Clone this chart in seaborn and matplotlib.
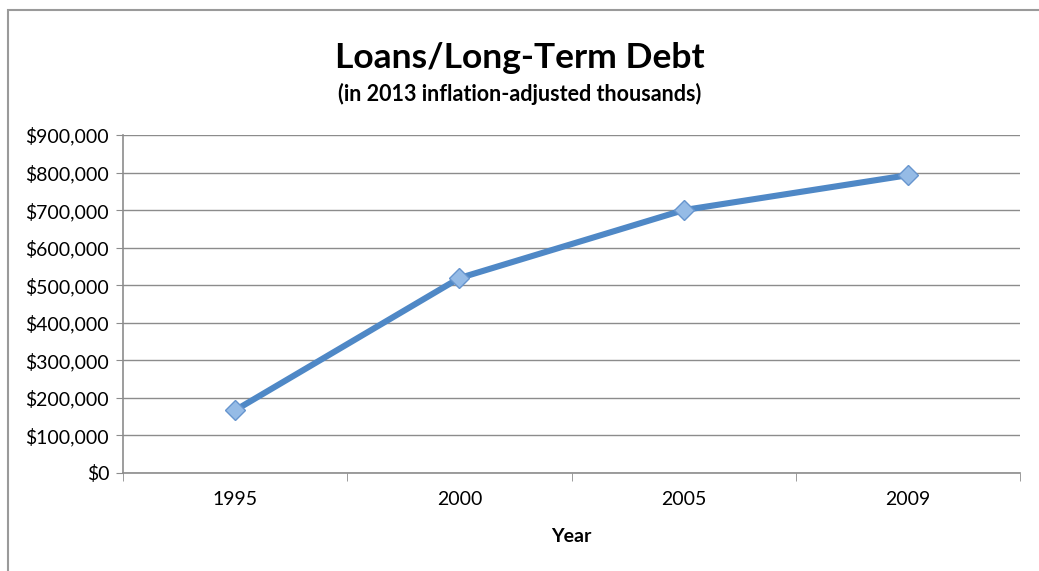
import matplotlib.pyplot as plt
import seaborn as sns
import pandas as pd
from matplotlib.patches import Rectangle
from matplotlib.ticker import FuncFormatter

# values
years = ['1995', '2000', '2005', '2009']
debt = [167000, 519000, 700000, 793000]
y_ticks = [0, 100000, 200000, 300000, 400000, 500000, 600000, 700000, 800000, 900000]

df = pd.DataFrame({'Year': years, 'Debt': debt})

sns.set_style('white')
plt.rcParams['font.family'] = ['Lato', 'DejaVu Sans']
plt.rcParams['text.color'] = 'black'

W, H = 1039, 571
fig = plt.figure(figsize=(W / 100, H / 100), dpi=100)

# gray frame around the chart area (Excel chart border)
fig.patches.append(Rectangle((8 / W, -0.1), 1.2, 1.1 - 10 / H,
                             transform=fig.transFigure, fill=False,
                             edgecolor='#9a9a9a', linewidth=1.5))

ax = fig.add_axes([123 / W, 1 - 473 / H, (1020 - 123) / W, (473 - 135) / H])

sns.lineplot(data=df, x='Year', y='Debt', sort=False, ax=ax,
             color='#4F88C6', linewidth=4.4,
             marker='D', markersize=10, markerfacecolor='#95BBE6',
             markeredgecolor='#6795CE', markeredgewidth=1, zorder=3)

ax.set_xlim(-0.5, len(years) - 0.5)
ax.set_ylim(0, 900000)
ax.set_yticks(y_ticks)
ax.yaxis.set_major_formatter(FuncFormatter(lambda v, p: f'${v:,.0f}'))

ax.yaxis.grid(True, color='#8c8c8c', linewidth=1)
ax.set_axisbelow(True)
for s in ['top', 'right']:
    ax.spines[s].set_visible(False)
for s in ['left', 'bottom']:
    ax.spines[s].set_color('#8c8c8c')
    ax.spines[s].set_linewidth(1.2)

ax.tick_params(axis='y', left=True, length=5, color='#8c8c8c', direction='out',
               labelsize=14, pad=5, labelcolor='black')
ax.tick_params(axis='x', which='major', length=0, labelsize=14, pad=13,
               labelcolor='black')
ax.set_xticks([i - 0.5 for i in range(len(years) + 1)], minor=True)
ax.tick_params(axis='x', which='minor', bottom=True, length=6, color='#8c8c8c',
               direction='out')

ax.set_xlabel('Year', fontsize=14, fontweight='bold', labelpad=14, color='black')
ax.set_ylabel('')

fig.text(0.5, 1 - 58 / H, 'Loans/Long-Term Debt', ha='center', va='center',
         fontsize=25.5, fontweight='bold', color='black')
fig.text(0.5, 1 - 94 / H, '(in 2013 inflation-adjusted thousands)', ha='center',
         va='center', fontsize=15.5, fontweight='bold', color='black')

fig.savefig('out.png', dpi=100)
